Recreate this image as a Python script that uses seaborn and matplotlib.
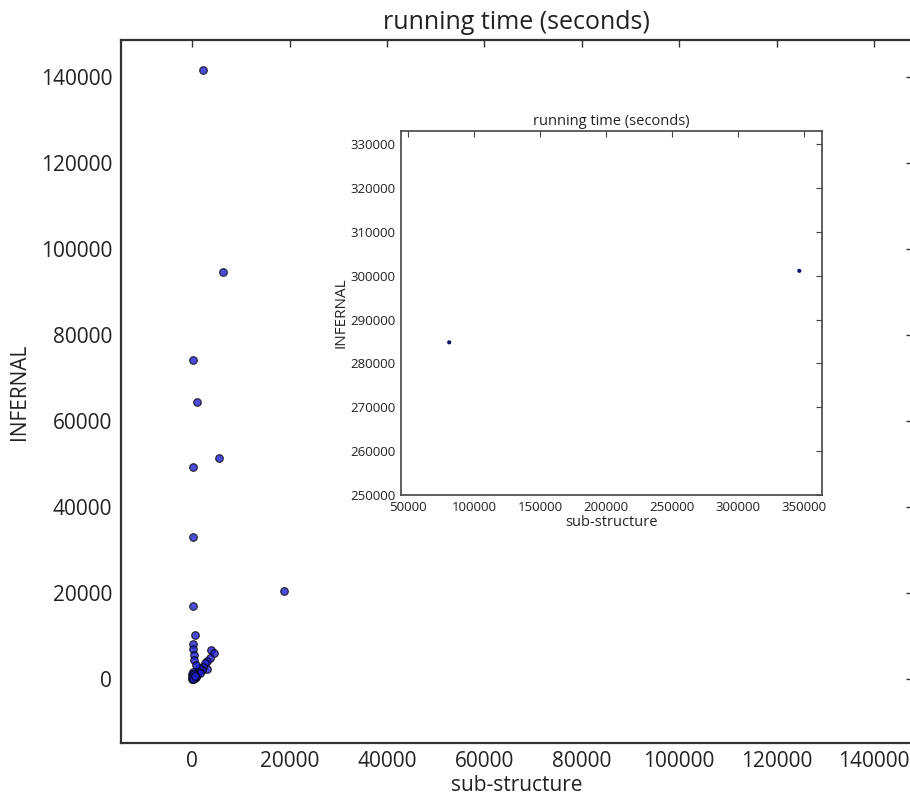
import matplotlib
matplotlib.use("Agg")
import matplotlib.pyplot as plt
import seaborn as sns
import pandas as pd

# main scatter: sub-structure vs INFERNAL running time (seconds)
sub_structure = [2250, 6240, 200, 970, 200, 5500, 200, 100, 18900,
                 550, 200, 200, 350, 350, 3800, 4500, 3600, 3100, 2600,
                 2950, 2250, 1900, 1450, 1200, 750, 550, 350, 100, 250,
                 950, 150, 1600, 50, 120, 300, 500, 80, 400, 700, 30,
                 60, 180, 260, 90, 420, 150, 40, 330, 220, 610]
infernal = [141700, 94600, 74200, 64500, 49300, 51400, 33100, 17000, 20400,
            10200, 8100, 7000, 5600, 4400, 6700, 6000, 5000, 4250, 3650,
            2300, 2700, 2100, 2500, 1700, 3250, 1300, 550, 250, 400,
            900, 1600, 1400, 100, 600, 200, 300, 900, 1000, 500, 1200,
            50, 120, 700, 350, 150, 800, 450, 1100, 30, 650]

# inset: the two largest cases
inset_sub = [81000, 346200]
inset_inf = [284800, 301100]

main_ticks = [0, 20000, 40000, 60000, 80000, 100000, 120000, 140000]
inset_xticks = [50000, 100000, 150000, 200000, 250000, 300000, 350000]
inset_yticks = [250000, 260000, 270000, 280000, 290000, 300000, 310000, 320000, 330000]

sns.set_style("white")
plt.rcParams["font.family"] = ["Open Sans", "DejaVu Sans"]

df = pd.DataFrame({"sub-structure": sub_structure, "INFERNAL": infernal})
df_in = pd.DataFrame({"sub-structure": inset_sub, "INFERNAL": inset_inf})

fig = plt.figure(figsize=(9.1, 7.95), dpi=100)
ax = fig.add_axes([0.1326, 0.0658, 0.8707, 0.8839])
sns.scatterplot(data=df, x="sub-structure", y="INFERNAL", ax=ax, color="#1f1fd0",
                alpha=0.8, edgecolor="black", linewidth=0.8, s=30)
ax.set_xlim(-14700, 148000)
ax.set_ylim(-14800, 148600)
ax.set_xticks(main_ticks)
ax.set_yticks(main_ticks)
ax.tick_params(direction="in", length=5, width=1, top=True, right=True,
               labelsize=15, colors="#333333", labelcolor="#222222", pad=6)
ax.set_title("running time (seconds)", fontsize=18, pad=8, color="#222222")
ax.set_xlabel("sub-structure", fontsize=15, labelpad=2, color="#222222")
ax.set_ylabel("INFERNAL", fontsize=15, labelpad=8, color="#222222")
for sp in ax.spines.values():
    sp.set_linewidth(1.6)
    sp.set_color("#333333")

ins = fig.add_axes([0.4407, 0.3774, 0.4629, 0.4579])
sns.scatterplot(data=df_in, x="sub-structure", y="INFERNAL", ax=ins, color="#10106e",
                edgecolor="none", s=9)
ins.set_xlim(44500, 363600)
ins.set_ylim(250000, 333000)
ins.set_xticks(inset_xticks)
ins.set_yticks(inset_yticks)
ins.tick_params(direction="in", length=4, width=0.8, top=True, right=True,
                labelsize=9.5, colors="#444444", labelcolor="#222222", pad=4)
ins.set_title("running time (seconds)", fontsize=10.5, pad=4, color="#222222")
ins.set_xlabel("sub-structure", fontsize=10.5, labelpad=1, color="#222222")
ins.set_ylabel("INFERNAL", fontsize=11, labelpad=1, color="#222222")
for sp in ins.spines.values():
    sp.set_linewidth(1.2)
    sp.set_color("#444444")

fig.savefig("out.png", dpi=100)
